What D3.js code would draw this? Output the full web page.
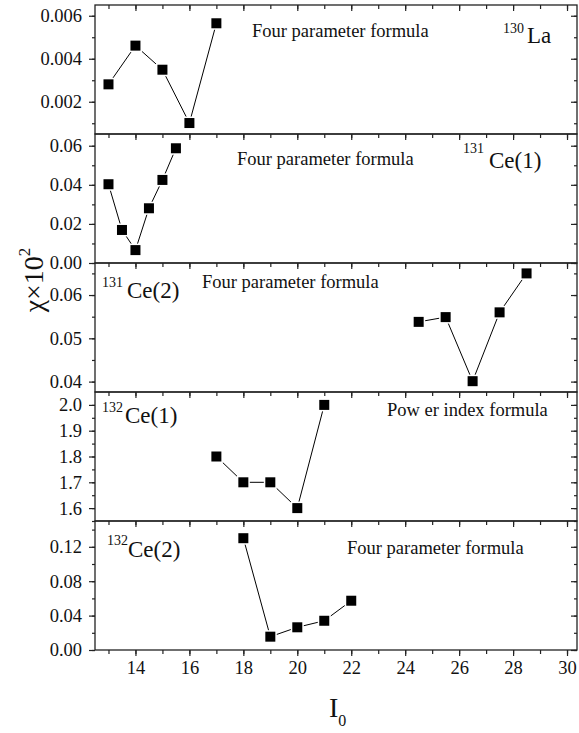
<!DOCTYPE html>
<html>
<head>
<meta charset="utf-8">
<script src="https://cdn.jsdelivr.net/npm/d3@7"></script>
<style>
  body { margin: 0; background: #fff; }
  svg text { font-family: "Liberation Serif", "DejaVu Serif", serif; }
</style>
</head>
<body>
<svg id="chart" width="579" height="733"></svg>
<script>
// x axis (I0)
var xMajor = [14, 16, 18, 20, 22, 24, 26, 28, 30];
var xMinor = d3.range(13, 31, 1);

// 130La, four parameter formula
var laX = [13, 14, 15, 16, 17];
var laY = [0.00281, 0.00461, 0.00349, 0.00101, 0.00565];
// 131Ce(1)
var ce131aX = [13, 13.5, 14, 14.5, 15, 15.5];
var ce131aY = [0.0403, 0.0169, 0.0066, 0.028, 0.0425, 0.0587];
// 131Ce(2)
var ce131bX = [24.5, 25.5, 26.5, 27.5, 28.5];
var ce131bY = [0.0538, 0.0549, 0.0401, 0.056, 0.065];
// 132Ce(1), power index formula
var ce132aX = [17, 18, 19, 20, 21];
var ce132aY = [1.8, 1.7, 1.7, 1.6, 2.0];
// 132Ce(2)
var ce132bX = [18, 19, 20, 21, 22];
var ce132bY = [0.13, 0.0155, 0.0264, 0.034, 0.0573];

// y tick labels per panel
var p1Ticks = [0.002, 0.004, 0.006], p1Labels = ["0.002", "0.004", "0.006"];
var p2Ticks = [0, 0.02, 0.04, 0.06], p2Labels = ["0.00", "0.02", "0.04", "0.06"];
var p3Ticks = [0.04, 0.05, 0.06], p3Labels = ["0.04", "0.05", "0.06"];
var p4Ticks = [1.6, 1.7, 1.8, 1.9, 2.0], p4Labels = ["1.6", "1.7", "1.8", "1.9", "2.0"];
var p5Ticks = [0, 0.04, 0.08, 0.12], p5Labels = ["0.00", "0.04", "0.08", "0.12"];

var svg = d3.select("#chart");
var left = 95, right = 577, top0 = 5, panelH = 129;
var serif = "Liberation Serif, DejaVu Serif, serif";

var x = d3.scaleLinear().domain([12.5, 30.37]).range([left, right]);

var panels = [
  { xs: laX, ys: laY, dom: [0.0005, 0.0065], ticks: p1Ticks, labels: p1Labels, minor: 0.001,
    formula: "Four parameter formula", fx: 252, fy: 32, sup: "130", sx: 503, sy: 28, name: "La", nx: 527, ny: 38 },
  { xs: ce131aX, ys: ce131aY, dom: [0, 0.066], ticks: p2Ticks, labels: p2Labels, minor: 0.01,
    formula: "Four parameter formula", fx: 237, fy: 31, sup: "131", sx: 463, sy: 19, name: "Ce(1)", nx: 489, ny: 34 },
  { xs: ce131bX, ys: ce131bY, dom: [0.0376, 0.0674], ticks: p3Ticks, labels: p3Labels, minor: 0.005,
    formula: "Four parameter formula", fx: 202, fy: 25, sup: "131", sx: 102, sy: 24, name: "Ce(2)", nx: 127, ny: 35 },
  { xs: ce132aX, ys: ce132aY, dom: [1.55, 2.05], ticks: p4Ticks, labels: p4Labels, minor: 0.05,
    formula: "Pow er index formula", fx: 387, fy: 24, sup: "132", sx: 102, sy: 20, name: "Ce(1)", nx: 125, ny: 31 },
  { xs: ce132bX, ys: ce132bY, dom: [0, 0.15], ticks: p5Ticks, labels: p5Labels, minor: 0.02,
    formula: "Four parameter formula", fx: 347, fy: 33, sup: "132", sx: 107, sy: 24, name: "Ce(2)", nx: 128, ny: 36 }
];

panels.forEach(function (p, i) {
  var t = top0 + i * panelH, b = t + panelH;
  var y = d3.scaleLinear().domain(p.dom).range([b, t]);
  var g = svg.append("g");

  var minorTicks = d3.range(Math.ceil(p.dom[0] / p.minor) * p.minor, p.dom[1], p.minor)
    .map(function (v) { return +v.toFixed(6); });

  // left axis, ticks outward
  g.append("g").attr("class", "ax").attr("transform", "translate(" + left + ",0)")
    .call(d3.axisLeft(y).tickValues(minorTicks).tickSize(3).tickFormat(""));
  g.append("g").attr("class", "ax lab").attr("transform", "translate(" + left + ",0)")
    .call(d3.axisLeft(y).tickValues(p.ticks).tickSize(6).tickPadding(7)
      .tickFormat(function (d, k) { return p.labels[k]; }));

  // right axis, ticks inward
  g.append("g").attr("class", "ax").attr("transform", "translate(" + right + ",0)")
    .call(d3.axisLeft(y).tickValues(minorTicks).tickSize(3).tickFormat(""));
  g.append("g").attr("class", "ax").attr("transform", "translate(" + right + ",0)")
    .call(d3.axisLeft(y).tickValues(p.ticks).tickSize(6).tickFormat(""));

  // top of panel, ticks pointing down
  g.append("g").attr("class", "ax").attr("transform", "translate(0," + t + ")")
    .call(d3.axisBottom(x).tickValues(xMinor).tickSize(4).tickFormat(""));
  g.append("g").attr("class", "ax").attr("transform", "translate(0," + t + ")")
    .call(d3.axisBottom(x).tickValues(xMajor).tickSize(6).tickFormat(""));

  // frame
  g.append("rect").attr("x", left).attr("y", t).attr("width", right - left).attr("height", panelH)
    .attr("fill", "none").attr("stroke", "#222").attr("stroke-width", 1.3);

  var pts = p.xs.map(function (v, k) { return [v, p.ys[k]]; });
  g.append("path").datum(pts)
    .attr("fill", "none").attr("stroke", "#000").attr("stroke-width", 1)
    .attr("d", d3.line().x(function (d) { return x(d[0]); }).y(function (d) { return y(d[1]); }));
  g.selectAll(".pt").data(pts).enter().append("rect")
    .attr("x", function (d) { return x(d[0]) - 5; })
    .attr("y", function (d) { return y(d[1]) - 5; })
    .attr("width", 10).attr("height", 10)
    .attr("fill", "#000").attr("stroke", "#fff").attr("stroke-width", 3)
    .style("paint-order", "stroke");

  g.append("text").attr("x", p.fx).attr("y", t + p.fy).attr("font-size", 18.5).attr("fill", "#111").text(p.formula);
  g.append("text").attr("x", p.sx).attr("y", t + p.sy).attr("font-size", 14).attr("fill", "#111").text(p.sup);
  g.append("text").attr("x", p.nx).attr("y", t + p.ny).attr("font-size", 23).attr("fill", "#111").text(p.name);

  if (i === panels.length - 1) {
    g.append("g").attr("class", "ax lab").attr("transform", "translate(0," + b + ")")
      .call(d3.axisBottom(x).tickValues(xMinor).tickSize(4).tickFormat(""));
    g.append("g").attr("class", "ax lab").attr("transform", "translate(0," + b + ")")
      .call(d3.axisBottom(x).tickValues(xMajor).tickSize(6).tickPadding(5));
  }
});

svg.selectAll(".ax path").remove();
svg.selectAll(".ax").attr("font-family", serif);
svg.selectAll(".ax line").attr("stroke", "#222").attr("stroke-width", 1.2);
svg.selectAll(".lab text").attr("font-size", 18.5).attr("fill", "#111");

// axis titles
var yt = svg.append("text").attr("transform", "translate(43,280) rotate(-90)")
  .attr("text-anchor", "middle").attr("font-size", 28).attr("fill", "#111");
yt.append("tspan").text("\u03C7\u00D710");
yt.append("tspan").attr("font-size", 17).attr("dy", -13).text("2");

var xt = svg.append("text").attr("x", 329).attr("y", 717).attr("font-size", 28).attr("fill", "#111");
xt.append("tspan").text("I");
xt.append("tspan").attr("font-size", 16).attr("dy", 9).text("0");
</script>
</body>
</html>
